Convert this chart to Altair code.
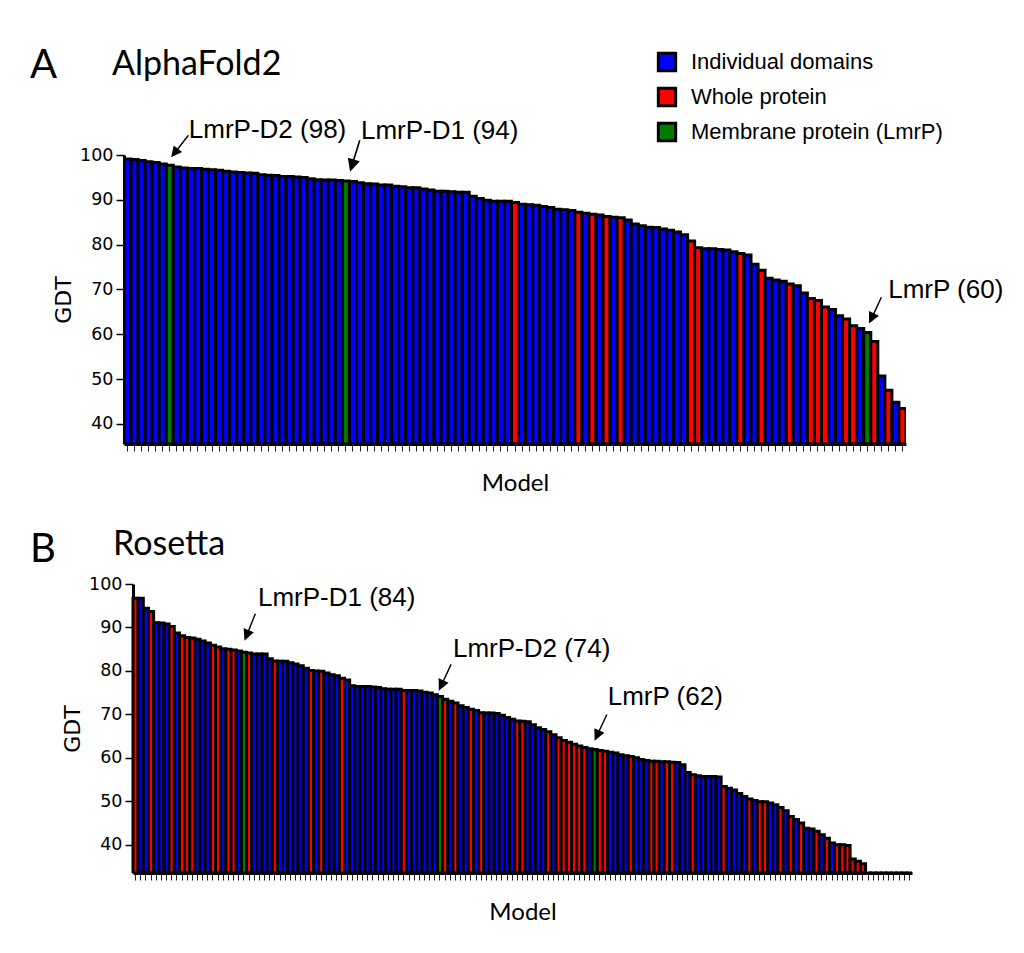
import altair as alt
import pandas as pd

KINDS = ["Individual domains", "Whole protein", "Membrane protein (LmrP)"]
COLORS = ["#0000ff", "#ff0000", "#007a00"]

# ---------------- AlphaFold2 (panel A) ----------------
af_gdt = [
    99.1, 99.0, 98.8, 98.5, 98.3, 98.0, 97.7, 97.3, 97.1, 97.0,
    97.0, 96.8, 96.7, 96.6, 96.4, 96.2, 96.1, 96.0, 95.9, 95.6,
    95.5, 95.4, 95.2, 95.2, 95.1, 95.0, 94.7, 94.5, 94.4, 94.4,
    94.3, 94.2, 94.1, 93.8, 93.6, 93.5, 93.3, 93.3, 93.0, 92.9,
    92.7, 92.7, 92.4, 92.2, 91.9, 91.9, 91.8, 91.7, 91.7, 90.8,
    90.3, 89.9, 89.7, 89.7, 89.7, 89.4, 89.0, 88.9, 88.8, 88.5,
    88.3, 87.9, 87.8, 87.6, 87.2, 87.0, 86.8, 86.6, 86.3, 86.1,
    86.0, 85.5, 84.6, 84.2, 83.9, 83.8, 83.5, 83.2, 82.8, 82.2,
    80.8, 79.3, 79.1, 79.1, 78.9, 78.8, 78.4, 78.0, 77.7, 75.6,
    74.3, 72.5, 72.1, 71.8, 71.2, 70.8, 69.2, 68.0, 67.5, 66.1,
    65.5, 64.1, 63.4, 61.9, 61.3, 60.4, 58.4, 50.7, 47.5, 44.8,
    43.4,
]
af_whole = [55, 64, 66, 68, 70, 80, 81, 87, 90, 94, 97, 98, 99, 102, 103, 106, 108, 110]
af_membrane = [6, 31, 105]

# ---------------- Rosetta (panel B) ----------------
ro_gdt = [
    96.7, 96.7, 94.4, 93.7, 91.1, 91.0, 90.8, 90.2, 88.7, 88.1,
    87.7, 87.6, 87.3, 86.9, 86.4, 85.9, 85.5, 85.1, 85.0, 84.8,
    84.6, 84.3, 84.1, 83.9, 83.9, 83.9, 82.8, 82.3, 82.2, 82.2,
    81.9, 81.6, 81.2, 80.6, 80.1, 80.0, 79.9, 79.5, 79.1, 78.9,
    78.3, 77.9, 76.6, 76.4, 76.4, 76.4, 76.3, 76.2, 75.9, 75.8,
    75.8, 75.8, 75.5, 75.5, 75.5, 75.4, 75.1, 74.9, 74.5, 74.1,
    73.5, 73.0, 72.6, 72.0, 71.6, 71.2, 70.9, 70.4, 70.3, 70.3,
    70.2, 69.8, 69.3, 68.9, 68.5, 68.4, 68.3, 67.6, 66.9, 66.5,
    66.0, 65.3, 64.6, 64.0, 63.6, 63.1, 62.7, 62.4, 62.1, 61.9,
    61.7, 61.5, 61.3, 61.1, 60.7, 60.5, 60.3, 60.0, 59.6, 59.4,
    59.2, 59.2, 59.1, 59.1, 59.0, 58.9, 58.4, 56.6, 56.1, 55.9,
    55.7, 55.7, 55.7, 55.6, 53.4, 53.0, 52.6, 51.8, 51.1, 50.5,
    50.2, 49.9, 49.9, 49.6, 49.2, 48.6, 47.8, 46.5, 45.8, 45.0,
    43.8, 43.6, 43.1, 42.3, 41.5, 40.4, 40.0, 40.0, 39.8, 36.7,
    36.2, 35.6, 0, 0, 0, 0, 0, 0, 0, 0,
    0,
]
ro_whole = [0, 3, 7, 9, 10, 11, 15, 16, 18, 19, 22, 27, 34, 36, 40, 52, 60, 62, 65, 67,
            74, 75, 80, 82, 83, 84, 85, 86, 87, 90, 91, 96, 100, 101, 103, 104, 108, 114,
            119, 121, 122, 125, 127, 129, 132, 134, 136, 137, 138, 139, 140, 141]
ro_membrane = [21, 59, 89]

# annotations: (bar index, label)
af_notes = [(6, "LmrP-D2 (98)"), (31, "LmrP-D1 (94)"), (105, "LmrP (60)")]
ro_notes = [(21, "LmrP-D1 (84)"), (59, "LmrP-D2 (74)"), (89, "LmrP (62)")]

ARROW = "M -0.05 -1 L 0.05 -1 L 0.05 0.22 L 0.38 0.22 L 0 1 L -0.38 0.22 L -0.05 0.22 Z"
SANS = "Liberation Sans"
TITLE_FONT = "Lato"
AX_FONT = "DejaVu Sans"


def kinds(n, whole, membrane):
    out = []
    for i in range(n):
        if i in membrane:
            out.append(KINDS[2])
        elif i in whole:
            out.append(KINDS[1])
        else:
            out.append(KINDS[0])
    return out


def panel(values, whole, membrane, notes, ymin, width, xrange, yaxis_offset,
          letter, name, name_dx, letter_y, name_y, note_offsets, show_legend):
    n = len(values)
    df = pd.DataFrame({"model": list(range(n)), "gdt": values,
                       "kind": kinds(n, whole, membrane)})
    if xrange is not None:
        xscale = alt.Scale(domain=list(range(n)), paddingInner=0, paddingOuter=0,
                           range=xrange)
    else:
        xscale = alt.Scale(domain=list(range(n)), paddingInner=0, paddingOuter=0)
    x = alt.X("model:O", scale=xscale,
              axis=alt.Axis(labels=False, ticks=True, tickSize=7, tickWidth=1,
                            tickColor="#222", domainColor="black", domainWidth=3,
                            title="Model", titleFont=TITLE_FONT, titleFontSize=24,
                            titleFontWeight="normal", titleColor="black",
                            titlePadding=20))
    y = alt.Y("gdt:Q", scale=alt.Scale(domain=[ymin, 100], nice=False, zero=False),
              axis=alt.Axis(values=[40, 50, 60, 70, 80, 90, 100], grid=False,
                            tickSize=8, tickWidth=1.5, tickColor="black",
                            domainColor="black", domainWidth=3,
                            labelFont=AX_FONT, labelFontSize=17.5, labelColor="black",
                            labelPadding=3, offset=yaxis_offset,
                            title="GDT", titleFont=AX_FONT, titleFontSize=22,
                            titleFontWeight="normal", titleColor="black",
                            titlePadding=4))
    if show_legend:
        legend = alt.Legend(orient="none", legendX=532, legendY=-104, title=None,
                            symbolType="square", symbolSize=300,
                            symbolStrokeColor="black", symbolStrokeWidth=3,
                            symbolOpacity=1, labelFont=SANS, labelFontSize=22,
                            labelColor="black", labelOffset=13, rowPadding=5,
                            labelLimit=400)
    else:
        legend = None
    color = alt.Color("kind:N", scale=alt.Scale(domain=KINDS, range=COLORS),
                      legend=legend)
    bars = alt.Chart(df).mark_bar(stroke="black", strokeWidth=3, clip=True,
                                  opacity=1).encode(
        x=x, y=y, y2=alt.datum(ymin), color=color)

    layers = [bars]
    for (idx, label), (tdx, tdy, adx, ady, ang, alen) in zip(notes, note_offsets):
        nd = pd.DataFrame({"model": [idx], "gdt": [values[idx]], "label": [label]})
        layers.append(alt.Chart(nd).mark_text(
            align="left", baseline="alphabetic", dx=tdx, dy=tdy, font=SANS,
            fontSize=26, color="black").encode(x="model:O", y="gdt:Q", text="label:N"))
        layers.append(alt.Chart(nd).mark_point(
            shape=ARROW, filled=True, color="black", opacity=1, strokeWidth=0,
            size=alen * alen, angle=ang, xOffset=adx, yOffset=ady).encode(
            x="model:O", y="gdt:Q"))

    td = pd.DataFrame({"letter": [letter], "name": [name]})
    layers.append(alt.Chart(td).mark_text(
        align="left", baseline="alphabetic", font=TITLE_FONT, fontSize=40,
        color="black").encode(text="letter:N", x=alt.value(-94), y=alt.value(letter_y)))
    layers.append(alt.Chart(td).mark_text(
        align="left", baseline="alphabetic", font=TITLE_FONT, fontSize=34,
        color="black").encode(text="name:N", x=alt.value(name_dx), y=alt.value(name_y)))

    return alt.layer(*layers).properties(width=width, height=289)


chartA = panel(af_gdt, af_whole, af_membrane, af_notes, 35.5, 782, None, 0,
               "A", "AlphaFold2", -12, -77, -80,
               [(19, -27, 10, -19, 38, 28), (15, -42, 9, -25, 17, 33), (21, -34, 8, -22, 25, 29)],
               True)
chartB = panel(ro_gdt, ro_whole, ro_membrane, ro_notes, 33.5, 788, [9, 788], -9,
               "B", "Rosetta", -11, -22, -29,
               [(14, -46, 6, -25, 22, 29), (13, -40, 5, -19, 25, 29), (13, -45, 6, -22, 25, 29)],
               False)

chart = alt.vconcat(chartA, chartB, spacing=32).resolve_legend(
    color="independent").properties(
    padding={"left": 22, "top": 38, "right": 5, "bottom": 5},
    background="white").configure_view(stroke=None)

chart.save("out.html", embed_options={"renderer": "svg", "actions": False})
